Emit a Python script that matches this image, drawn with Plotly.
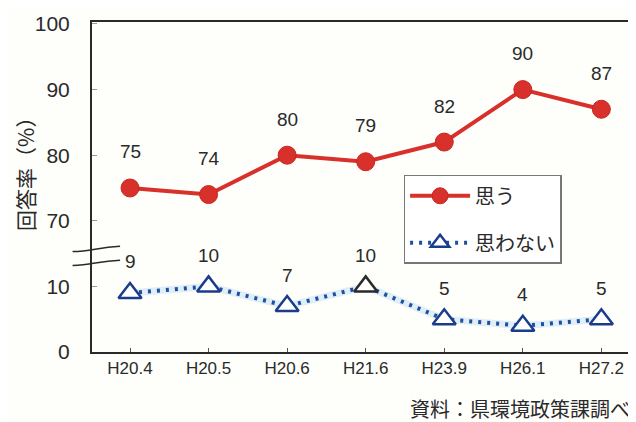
import plotly.graph_objects as go

categories = ["H20.4", "H20.5", "H20.6", "H21.6", "H23.9", "H26.1", "H27.2"]
omou = [75, 74, 80, 79, 82, 90, 87]          # 思う
omowanai = [9, 10, 7, 10, 5, 4, 5]           # 思わない
y_tick_labels = ["0", "10", "70", "80", "90", "100"]
y_tick_values = [0, 10, 70, 80, 90, 100]

# broken axis: values >= 70 are shifted down by 50
BREAK_SHIFT = 50


def to_axis(v):
    return v - BREAK_SHIFT if v >= 50 else v


x_idx = list(range(len(categories)))
omou_plot = [to_axis(v) for v in omou]
omowanai_plot = [to_axis(v) for v in omowanai]
tickvals = [to_axis(v) for v in y_tick_values]

RED = "#D8302A"
NAVY = "#1B3C8C"
DOTBLUE = "#1F4FA0"
FONT = "Liberation Sans, Noto Sans CJK JP, sans-serif"
JP = "Noto Sans CJK JP, sans-serif"

fig = go.Figure()

# soft halo under dotted line
fig.add_trace(go.Scatter(
    x=x_idx, y=omowanai_plot, mode="lines",
    line=dict(color="rgba(120,180,230,0.22)", width=7),
    showlegend=False, hoverinfo="skip"))

fig.add_trace(go.Scatter(
    x=x_idx, y=omou_plot, mode="lines+markers", name="思う",
    legendgroup="a",
    line=dict(color=RED, width=4),
    marker=dict(symbol="circle", size=18, color=RED,
                line=dict(color="#C82620", width=1))))

marker_cols = [NAVY] * len(omowanai)
marker_cols[3] = "#2a2a2a"
fig.add_trace(go.Scatter(
    x=x_idx, y=omowanai_plot, mode="lines+markers", name="思わない",
    legendgroup="b",
    line=dict(color=DOTBLUE, width=4, dash="3px,6px"),
    marker=dict(symbol="triangle-up", size=20, color="white",
                line=dict(color=marker_cols, width=2.5))))

annotations = []
for xi, v, yp in zip(x_idx, omou, omou_plot):
    annotations.append(dict(x=xi, y=yp, text=str(v), showarrow=False,
                            yshift=36, font=dict(size=19, color="#2a2a2a", family=FONT)))
for xi, v, yp in zip(x_idx, omowanai, omowanai_plot):
    annotations.append(dict(x=xi, y=yp, text=str(v), showarrow=False,
                            yshift=31, font=dict(size=19, color="#2a2a2a", family=FONT)))

annotations.append(dict(xref="paper", yref="paper", x=-0.124, y=0.555,
                        xanchor="center", yanchor="middle",
                        text="回答率（%）", textangle=-90, showarrow=False,
                        font=dict(size=21, color="#2a2a2a", family=JP)))
annotations.append(dict(xref="paper", yref="paper", x=1.0, y=-0.17,
                        xanchor="right", yanchor="middle",
                        text="資料：県環境政策課調べ", showarrow=False,
                        font=dict(size=20, color="#2a2a2a", family=JP)))

shapes = [
    dict(type="path", xref="paper", yref="y", layer="above",
         path="M -0.036,15.3 C 0.0,15.3 0.01,16.0 0.052,16.1",
         line=dict(color="#2a2a2a", width=1.5)),
    dict(type="path", xref="paper", yref="y", layer="above",
         path="M -0.036,13.2 C 0.0,13.2 0.01,13.9 0.052,14.0",
         line=dict(color="#2a2a2a", width=1.5)),
]

# the page body has an 8px margin; figure is sized to fit the 636x422 window
fig.update_layout(
    width=628, height=414,
    margin=dict(l=84, r=4, t=12, b=70),
    paper_bgcolor="#FEFEFB", plot_bgcolor="#FEFEFB",
    font=dict(family=FONT, color="#2a2a2a"),
    showlegend=True,
    legend=dict(x=0.577, y=0.537, xanchor="left", yanchor="top",
                bgcolor="white", bordercolor="#777", borderwidth=1.5,
                font=dict(size=20, family=JP, color="#2a2a2a"),
                traceorder="grouped", tracegroupgap=18, itemwidth=60),
    xaxis=dict(range=[-0.484, 6.39], tickmode="array", tickvals=x_idx,
               ticktext=categories, showline=True, linecolor="#2a2a2a",
               linewidth=2, mirror=True, ticks="inside", ticklen=4,
               tickcolor="#555", tickson="boundaries", showgrid=False,
               zeroline=False, tickfont=dict(size=17, family=FONT, color="#2a2a2a")),
    yaxis=dict(range=[0, 50.3], tickmode="array", tickvals=tickvals,
               ticktext=y_tick_labels, showline=True, linecolor="#2a2a2a",
               linewidth=2, ticks="inside", ticklen=5, tickcolor="#999",
               showgrid=False, zeroline=False, ticklabelstandoff=16,
               tickfont=dict(size=21, family=FONT, color="#2a2a2a")),
    annotations=annotations,
    shapes=shapes,
)

fig.write_html("out.html")
